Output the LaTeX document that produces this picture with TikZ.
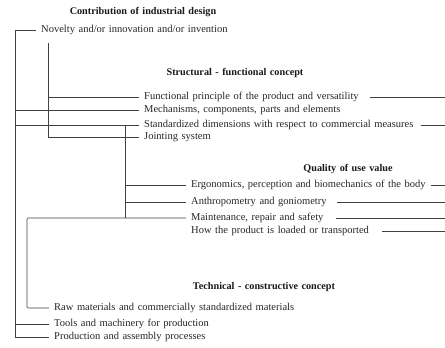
\documentclass[tikz,border=0pt]{standalone}
\usepackage{fontspec}
\setmainfont{Liberation Serif}
\newcommand\itemfont{\fontsize{10.5}{12.5}\selectfont\spaceskip0.34em plus 0.1em\relax}
\newcommand\headfont{\bfseries\fontsize{10.2}{12}\selectfont\spaceskip0.34em plus 0.1em\relax}
\begin{document}
\begin{tikzpicture}[x=1pt, y=-1pt,
  item/.style={anchor=west, inner xsep=5pt, inner ysep=1pt, text=black!85, font=\itemfont},
  head/.style={inner sep=1pt, text=black!90, font=\headfont},
  link/.style={draw=black!75, line width=0.7pt}]
  \useasboundingbox (0,0) rectangle (445,348);
%
  \node [head] (contrib) at (143,12) {Contribution of industrial design};
  \node [item] (novelty) at (36,30) {Novelty and/or innovation and/or invention};
%
  \node [head] (struct) at (235,73) {Structural - functional concept};
  \node [item] (func) at (139,97) {Functional principle of the product and versatility};
  \node [item] (mech) at (139,110) {Mechanisms, components, parts and elements};
  \node [item] (stand) at (139,125) {Standardized dimensions with respect to commercial measures};
  \node [item] (joint) at (139,137) {Jointing system};
%
  \node [head] (quality) at (348,169) {Quality of use value};
  \node [item] (ergo) at (186,185) {Ergonomics, perception and biomechanics of the body};
  \node [item] (anthro) at (186,202) {Anthropometry and goniometry};
  \node [item] (maint) at (186,218) {Maintenance, repair and safety};
  \node [item] (load) at (186,231) {How the product is loaded or transported};
%
  \node [head] (tech) at (264,287) {Technical - constructive concept};
  \node [item] (raw) at (49,308) {Raw materials and commercially standardized materials};
  \node [item] (tools) at (49,324) {Tools and machinery for production};
  \node [item] (prod) at (49,337) {Production and assembly processes};
%
  \coordinate (c1) at (15,0);
  \coordinate (c2) at (48,43);
  \coordinate (c3) at (125,0);
  \coordinate (c4) at (27,0);
  \coordinate (rim) at (445,0);
%
  \draw [link] (novelty.west) -| (c1 |- prod.west) -- (prod.west);
  \draw [link] (c1 |- mech.west) -- (mech.west);
  \draw [link] (c1 |- stand.west) -- (stand.west);
  \draw [link] (c1 |- tools.west) -- (tools.west);
%
  \draw [link] (c2) |- (joint.west);
  \draw [link] (c2 |- func.west) -- (func.west);
%
  \draw [link] (c3 |- stand.west) -- (c3 |- maint.west);
  \draw [link] (c3 |- ergo.west) -- (ergo.west);
  \draw [link] (c3 |- anthro.west) -- (anthro.west);
  \draw [link, rounded corners=1pt] (maint.west) -| (c4 |- raw.west) -- (raw.west);
%
  \draw [link] ([xshift=6pt]func.east) -- (func.east -| rim);
  \draw [link] ([xshift=2pt]stand.east) -- (stand.east -| rim);
  \draw [link] ([xshift=0pt]ergo.east) -- (ergo.east -| rim);
  \draw [link] ([xshift=5pt]anthro.east) -- (anthro.east -| rim);
  \draw [link] ([xshift=7pt]maint.east) -- (maint.east -| rim);
  \draw [link] ([xshift=8pt]load.east) -- (load.east -| rim);
\end{tikzpicture}
\end{document}
